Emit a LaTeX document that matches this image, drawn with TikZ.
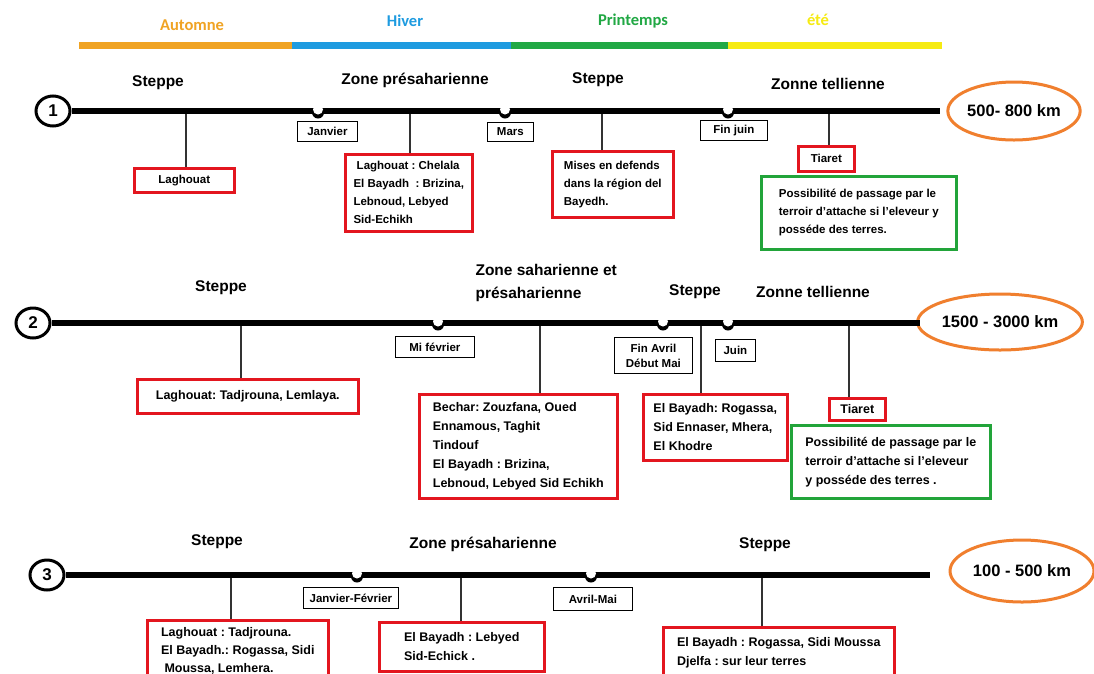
\documentclass[tikz,border=0pt]{standalone}
\usepackage{fontspec}
\setmainfont{Liberation Sans}
\newfontfamily\saisonfont{Carlito}
\usepackage{tikz}
\usetikzlibrary{shapes.geometric}
\definecolor{SaisonOrange}{HTML}{F0A323}
\definecolor{SaisonBleu}{HTML}{1E9BE0}
\definecolor{SaisonVert}{HTML}{21A844}
\definecolor{SaisonJaune}{HTML}{F6EB12}
\definecolor{CadreRouge}{HTML}{E3161F}
\definecolor{CadreVert}{HTML}{22A43A}
\definecolor{KmOrange}{HTML}{F07F2E}
\frenchspacing

\begin{document}
\begin{tikzpicture}[x=1pt,y=-1pt,
  saison/.style={font=\saisonfont\bfseries\fontsize{16.5}{18}\selectfont},
  zone/.style={font=\bfseries\fontsize{15.5}{23}\selectfont,align=left},
  mois/.style={draw,line width=.8pt,anchor=north west,inner sep=0pt,align=center,font=\bfseries\fontsize{11.5}{13}\selectfont},
  lieu/.style={draw=CadreRouge,line width=2.6pt,anchor=north west,inner sep=0pt,align=left,font=\bfseries\fontsize{12.5}{19}\selectfont},
  petit/.style={font=\bfseries\fontsize{11.5}{18}\selectfont},
  option/.style={lieu,draw=CadreVert},
  num/.style={ellipse,draw,line width=3pt,inner sep=0pt,minimum width=34,minimum height=30,font=\bfseries\fontsize{17}{17}\selectfont},
  km/.style={ellipse,draw=KmOrange,line width=3pt,inner sep=0pt,font=\bfseries\fontsize{16.5}{18}\selectfont},
  voie/.style={line width=6pt},
  lien/.style={line width=1.1pt,black!80}]
\useasboundingbox (0,0) rectangle (1094,673);
\clip (0,0) rectangle (1094,673);
\fill[white] (0,0) rectangle (1094,673);
\foreach \c/\a/\b in {SaisonOrange/79/292,SaisonBleu/292/511,SaisonVert/511/728,SaisonJaune/728/942}
  \fill[\c] (\a,42) rectangle (\b,48.5);
\node[saison,text=SaisonOrange] (automne) at (192,25) {Automne};
\node[saison,text=SaisonBleu] (hiver) at (405,21) {Hiver};
\node[saison,text=SaisonVert] (printemps) at (633,21) {Printemps};
\node[saison,text=SaisonJaune] (ete) at (818,20) {été};

% parcours 1
\node[num] (n1) at (53,111) {1};
\coordinate (f1) at (940,111);
\node[zone] (z1a) at (158,83) {Steppe};
\node[zone] (z1b) at (415,80) {Zone présaharienne};
\node[zone] (z1c) at (598,80) {Steppe};
\node[zone] (z1d) at (828,84) {Zonne tellienne};
\node[mois,minimum width=60,minimum height=20] (m1a) at (297,121) {Janvier};
\node[mois,minimum width=46,minimum height=19] (m1b) at (487,122) {Mars};
\node[mois,minimum width=67,minimum height=20] (m1c) at (700,120) {Fin juin};
\node[lieu,petit,minimum width=100,minimum height=24] (l1a) at (133,167) {Laghouat};
\node[lieu,petit,minimum width=127,minimum height=77] (l1b) at (344,153) {\ Laghouat : Chelala\\El Bayadh\ \ : Brizina,\\Lebnoud, Lebyed\\Sid-Echikh};
\node[lieu,petit,minimum width=121,minimum height=66] (l1c) at (551,150) {Mises en defends\\dans la région del\\Bayedh.};
\node[lieu,petit,minimum width=56,minimum height=25] (l1d) at (797,145) {Tiaret};
\node[option,petit,minimum width=195,minimum height=73] (o1) at (760,175) {Possibilité de passage par le\\terroir d'attache si l'eleveur y\\posséde des terres.};
\node[km,minimum width=126,minimum height=58] (d1) at (1014,111) {500- 800 km};
\foreach \x/\b in {186/l1a,410/l1b,602/l1c,829/l1d}{
  \coordinate (t\b) at (\x,111);
  \draw[lien] (t\b) -- (t\b |- \b.north);}
\draw[voie] (n1.east) -- (f1);
\foreach \x in {318,505,728}{
  \fill (\x,112.5) circle (6);
  \fill[white] (\x,109.5) circle (5);}

% parcours 2
\node[num] (n2) at (33,323) {2};
\coordinate (f2) at (920,323);
\node[zone] (z2a) at (221,288) {Steppe};
\node[zone,anchor=west] (z2b) at (472,283) {Zone saharienne et\\présaharienne};
\node[zone] (z2c) at (695,292) {Steppe};
\node[zone] (z2d) at (813,292) {Zonne tellienne};
\node[mois,minimum width=79,minimum height=21] (m2a) at (395,336) {Mi février};
\node[mois,minimum width=78,minimum height=36,font=\bfseries\fontsize{11.5}{15}\selectfont] (m2b) at (614,337) {Fin Avril\\Début Mai};
\node[mois,minimum width=40,minimum height=22] (m2c) at (715,339) {Juin};
\node[lieu,minimum width=221,minimum height=34] (l2a) at (136,378) {Laghouat: Tadjrouna, Lemlaya.};
\node[lieu,minimum width=198,minimum height=104] (l2b) at (418,393) {Bechar: Zouzfana, Oued\\Ennamous, Taghit\\Tindouf\\El Bayadh : Brizina,\\Lebnoud, Lebyed Sid Echikh};
\node[lieu,minimum width=144,minimum height=66] (l2c) at (642,393) {El Bayadh: Rogassa,\\Sid Ennaser, Mhera,\\El Khodre};
\node[lieu,minimum width=56,minimum height=22] (l2d) at (828,397) {Tiaret};
\node[option,minimum width=199,minimum height=73] (o2) at (790,424) {Possibilité de passage par le\\terroir d'attache si l'eleveur\\y posséde des terres .};
\node[km,minimum width=136,minimum height=56] (d2) at (1000,322) {1500 - 3000 km};
\foreach \x/\b in {241/l2a,540/l2b,701/l2c,849/l2d}{
  \coordinate (t\b) at (\x,323);
  \draw[lien] (t\b) -- (t\b |- \b.north);}
\draw[voie] (n2.east) -- (f2);
\foreach \x in {438,663,728}{
  \fill (\x,324.5) circle (6);
  \fill[white] (\x,321.5) circle (5);}

% parcours 3
\node[num] (n3) at (47,575) {3};
\coordinate (f3) at (930,575);
\node[zone] (z3a) at (217,542) {Steppe};
\node[zone] (z3b) at (483,544) {Zone présaharienne};
\node[zone] (z3c) at (765,545) {Steppe};
\node[mois,minimum width=95,minimum height=21] (m3a) at (303,587) {Janvier-Février};
\node[mois,minimum width=79,minimum height=23] (m3b) at (553,587) {Avril-Mai};
\node[lieu,minimum width=181,minimum height=62,font=\bfseries\fontsize{12.5}{18}\selectfont] (l3a) at (146,619) {Laghouat : Tadjrouna.\\El Bayadh.: Rogassa, Sidi\\\ Moussa, Lemhera.};
\node[lieu,minimum width=165,minimum height=49] (l3b) at (378,621) {El Bayadh : Lebyed\\Sid-Echick .};
\node[lieu,minimum width=231,minimum height=50] (l3c) at (662,626) {El Bayadh : Rogassa, Sidi Moussa\\Djelfa : sur leur terres};
\node[km,minimum width=144,minimum height=62] (d3) at (1022,571) {100 - 500 km};
\foreach \x/\b in {231/l3a,461/l3b,762/l3c}{
  \coordinate (t\b) at (\x,575);
  \draw[lien] (t\b) -- (t\b |- \b.north);}
\draw[voie] (n3.east) -- (f3);
\foreach \x in {357,591}{
  \fill (\x,576.5) circle (6);
  \fill[white] (\x,573.5) circle (5);}
\end{tikzpicture}
\end{document}
